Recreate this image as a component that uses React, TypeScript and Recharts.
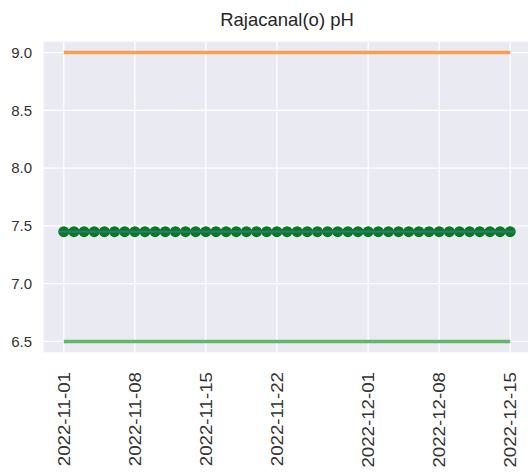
import React from 'react'
import { LineChart, Line, XAxis, YAxis, CartesianGrid } from 'recharts'

const dates = [
  '2022-11-01', '2022-11-02', '2022-11-03', '2022-11-04', '2022-11-05', '2022-11-06', '2022-11-07', '2022-11-08',
  '2022-11-09', '2022-11-10', '2022-11-11', '2022-11-12', '2022-11-13', '2022-11-14', '2022-11-15', '2022-11-16',
  '2022-11-17', '2022-11-18', '2022-11-19', '2022-11-20', '2022-11-21', '2022-11-22', '2022-11-23', '2022-11-24',
  '2022-11-25', '2022-11-26', '2022-11-27', '2022-11-28', '2022-11-29', '2022-11-30', '2022-12-01', '2022-12-02',
  '2022-12-03', '2022-12-04', '2022-12-05', '2022-12-06', '2022-12-07', '2022-12-08', '2022-12-09', '2022-12-10',
  '2022-12-11', '2022-12-12', '2022-12-13', '2022-12-14', '2022-12-15',
]

const ph = [
  7.45, 7.45, 7.45, 7.45, 7.45, 7.45, 7.45, 7.45, 7.45, 7.45, 7.45, 7.45, 7.45, 7.45, 7.45,
  7.45, 7.45, 7.45, 7.45, 7.45, 7.45, 7.45, 7.45, 7.45, 7.45, 7.45, 7.45, 7.45, 7.45, 7.45,
  7.45, 7.45, 7.45, 7.45, 7.45, 7.45, 7.45, 7.45, 7.45, 7.45, 7.45, 7.45, 7.45, 7.45, 7.45,
]

const limitDates = ['2022-11-01', '2022-12-15']
const upperLimit = [9.0, 9.0]
const lowerLimit = [6.5, 6.5]

const xTicks = ['2022-11-01', '2022-11-08', '2022-11-15', '2022-11-22', '2022-12-01', '2022-12-08', '2022-12-15']
const yTicks = [6.5, 7.0, 7.5, 8.0, 8.5, 9.0]

const DAY = 86400000
const ts = (d: string) => Date.parse(d + 'T00:00:00Z')
const fmt = (t: number) => new Date(t).toISOString().slice(0, 10)

const data = dates.map((d, i) => ({ t: ts(d), ph: ph[i] }))
const upperData = limitDates.map((d, i) => ({ t: ts(d), v: upperLimit[i] }))
const lowerData = limitDates.map((d, i) => ({ t: ts(d), v: lowerLimit[i] }))

const FONT = '"Liberation Sans", Arial, sans-serif'

const DateTick = (props: any) => {
  const { x, y, payload } = props
  return (
    <g transform={`translate(${x},${y + 19})`}>
      <text
        transform="rotate(-90) scale(1.1,1)"
        textAnchor="end"
        dominantBaseline="central"
        fontSize={17}
        fontFamily={FONT}
        fill="#333"
      >
        {fmt(payload.value)}
      </text>
    </g>
  )
}

// green marker with the teal connecting line showing through its centre
const PhDot = (props: any) => {
  const { cx, cy, index } = props
  if (cx == null || cy == null) return null
  return (
    <g key={index}>
      <circle cx={cx} cy={cy} r={5.5} fill="#0B7A1B" />
      <line x1={cx - 5.2} x2={cx + 5.2} y1={cy} y2={cy} stroke="#267A8E" strokeWidth={2} />
    </g>
  )
}

export default function App() {
  const t0 = ts(dates[0])
  return (
    <div style={{ position: 'fixed', left: 0, top: 0, width: 528, height: 473, overflow: 'hidden', background: '#fff' }}>
      <div
        style={{
          position: 'absolute', left: 43, width: 488, top: 11, textAlign: 'center',
          fontFamily: FONT, fontSize: 18.5, lineHeight: '18.5px', color: '#262626',
        }}
      >
        Rajacanal(o) pH
      </div>
      <LineChart width={540} height={473} margin={{ top: 41, right: 9, left: 0, bottom: 0 }}>
        <CartesianGrid stroke="#fff" strokeWidth={1.3} fill="#EAEAF2" fillOpacity={1} />
        <XAxis
          type="number"
          dataKey="t"
          domain={[t0 - 2.05 * DAY, t0 + 46.05 * DAY]}
          ticks={xTicks.map(ts)}
          interval={0}
          allowDataOverflow
          height={120}
          tickSize={0}
          tickMargin={0}
          axisLine={false}
          tickLine={false}
          tick={<DateTick />}
        />
        <YAxis
          type="number"
          domain={[6.4, 9.1]}
          ticks={yTicks}
          interval={0}
          allowDataOverflow
          width={43}
          tickSize={0}
          tickMargin={11}
          axisLine={false}
          tickLine={false}
          tickFormatter={(v: number) => v.toFixed(1)}
          tick={{ fontSize: 15, fontFamily: FONT, fill: '#333' }}
        />
        <Line data={upperData} dataKey="v" stroke="#F99F52" strokeWidth={3.5} dot={false} isAnimationActive={false} />
        <Line data={lowerData} dataKey="v" stroke="#65B667" strokeWidth={3.5} dot={false} isAnimationActive={false} />
        <Line data={data} dataKey="ph" stroke="#267A8E" strokeWidth={2} dot={<PhDot />} isAnimationActive={false} />
      </LineChart>
    </div>
  )
}
